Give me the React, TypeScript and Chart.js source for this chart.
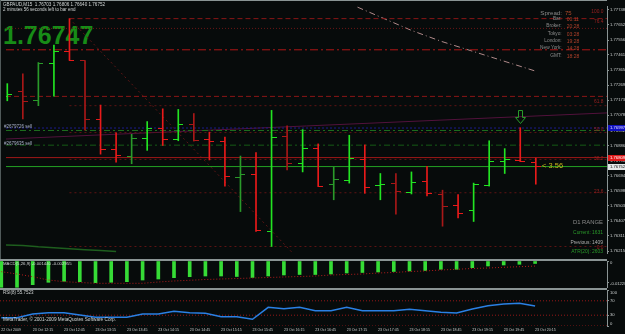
import React, { useEffect, useRef } from 'react';
import { Chart, registerables } from 'chart.js';

Chart.register(...registerables);

// ---------------- DATA ----------------
const timeTickBars = [0, 2, 4, 6, 8, 10, 12, 14, 16, 18, 20, 22, 24, 26, 28, 30, 32, 34];
const timeTickLabels = [
  '22 Oct 2009', '23 Oct 12:15', '23 Oct 12:45', '23 Oct 13:15', '23 Oct 13:45', '23 Oct 14:15',
  '23 Oct 14:45', '23 Oct 15:15', '23 Oct 15:45', '23 Oct 16:15', '23 Oct 16:45', '23 Oct 17:15',
  '23 Oct 17:45', '23 Oct 18:15', '23 Oct 18:45', '23 Oct 19:15', '23 Oct 19:45', '23 Oct 20:15',
];

const opens = [1.77200, 1.77230, 1.77174, 1.77409, 1.77481, 1.77423, 1.77054, 1.76861, 1.76815, 1.76931, 1.76991, 1.76922, 1.77022, 1.76926, 1.76910, 1.76683, 1.76703, 1.76338, 1.76946, 1.76773, 1.76864, 1.76636, 1.76663, 1.76799, 1.76630, 1.76647, 1.76586, 1.76659, 1.76572, 1.76505, 1.76475, 1.76633, 1.76787, 1.76793, 1.76780];
const highs = [1.77279, 1.77342, 1.77413, 1.77524, 1.77692, 1.77425, 1.77143, 1.76967, 1.76957, 1.77038, 1.77119, 1.77115, 1.77089, 1.76971, 1.76940, 1.76819, 1.76841, 1.77109, 1.77011, 1.76987, 1.76896, 1.76748, 1.76951, 1.76890, 1.76708, 1.76708, 1.76718, 1.76754, 1.76602, 1.76574, 1.76647, 1.76916, 1.76866, 1.76999, 1.76806];
const lows = [1.77170, 1.77054, 1.77139, 1.77200, 1.77427, 1.76983, 1.76831, 1.76780, 1.76770, 1.76855, 1.76886, 1.76916, 1.76914, 1.76794, 1.76628, 1.76466, 1.76340, 1.76244, 1.76730, 1.76718, 1.76625, 1.76541, 1.76647, 1.76582, 1.76541, 1.76450, 1.76578, 1.76566, 1.76373, 1.76426, 1.76403, 1.76628, 1.76708, 1.76783, 1.76640];
const closes = [1.77212, 1.77165, 1.77405, 1.77481, 1.77429, 1.77054, 1.76861, 1.76825, 1.76931, 1.76991, 1.76922, 1.77022, 1.76916, 1.76912, 1.76687, 1.76703, 1.76343, 1.76937, 1.76773, 1.76864, 1.76627, 1.76667, 1.76803, 1.76621, 1.76639, 1.76592, 1.76651, 1.76578, 1.76501, 1.76456, 1.76641, 1.76787, 1.76794, 1.76785, 1.76752];

const priceTicks = [1.77748, 1.77652, 1.77556, 1.77461, 1.77365, 1.77269, 1.77173, 1.77078, 1.76982, 1.76886, 1.76790, 1.76694, 1.76598, 1.76503, 1.76407, 1.76311, 1.76215];

// horizontal levels (pivots, orders, ask, bid)
const levelPrices = [1.77630, 1.77494, 1.77198, 1.76997, 1.76981, 1.76888, 1.76809, 1.76752];
// fibonacci retracement (bar 4 high to bar 17 low)
const fibHighBar = 4;
const fibLowBar = 17;
const fibRatios = [1, 0.618, 0.5, 0.382, 0.236, 0];
// right-axis price markers (order, ask, bid)
const markerPrices = [1.76997, 1.76809, 1.76752];
// trend line and other drawn objects
const trendBars = [-0.083, 38.58];
const trendPrices = [1.76927, 1.77093];
const diagBars = [4, 18.5];
const diagPrices = [1.77692, 1.76188];
const curveBars = [22.53, 26.03, 27.94, 34];
const curvePrices = [1.77765, 1.77616, 1.77547, 1.77358];
const maBars = [-0.083, 1, 2, 3, 4, 5, 6, 7];
const maPrices = [1.76253, 1.76251, 1.76242, 1.76236, 1.76230, 1.76224, 1.76218, 1.76212];
const arrowBars = [33];
const arrowPrices = [1.77070];

const macdHist = [-0.01539, -0.01539, -0.01386, -0.01246, -0.01188, -0.01211, -0.01269, -0.01246, -0.01211, -0.01112, -0.01053, -0.00977, -0.00918, -0.00878, -0.00878, -0.00907, -0.00965, -0.00878, -0.00819, -0.00790, -0.00790, -0.00761, -0.00702, -0.00673, -0.00644, -0.00614, -0.00585, -0.00556, -0.00486, -0.00486, -0.00392, -0.00293, -0.00234, -0.00193, -0.00144];
const macdSignal = [-0.00626, -0.00761, -0.00918, -0.01112, -0.01211, -0.01258, -0.01305, -0.01305, -0.01305, -0.01305, -0.01229, -0.01170, -0.01129, -0.01082, -0.01053, -0.01024, -0.00995, -0.00965, -0.00936, -0.00907, -0.00878, -0.00819, -0.00790, -0.00761, -0.00702, -0.00673, -0.00614, -0.00585, -0.00527, -0.00486, -0.00439, -0.00410, -0.00369, -0.00333, -0.00296];
const macdTicks = [0, -0.01229];
const macdTickLabels = ['0', '-0.012285'];

const rsiValues = [23.1, 23.1, 33.3, 36.9, 36.9, 30.6, 24.2, 24.2, 24.2, 33.3, 33.3, 40.8, 36.9, 35.3, 25.8, 25.8, 18.6, 51.9, 48.1, 51.9, 42.5, 42.5, 51.9, 42.5, 42.5, 42.5, 46.4, 42.5, 38.1, 36.1, 47.2, 56.4, 61.1, 63.1, 55.75];
const rsiTicks = [100, 70, 30, 0];
const rsiLevels = [70, 30, 0];

// ---------------- LAYOUT / STYLE ----------------
const X_MIN = -0.083;
const X_MAX = 38.58;
const P_MIN = 1.762028;
const P_MAX = 1.777723;
const MACD_MIN = -0.0158;
const AXIS_COLOR = '#8a9494';
const LABEL_COLOR = '#c8cccc';
const FONT = '"Liberation Sans", Arial, sans-serif';
const UP_BRIGHT = '#22e422';
const UP_DARK = '#2a9a2a';
const DN_BRIGHT = '#e81a1a';
const DN_DARK = '#a81818';
const barShade = [1, 0, 0, 1, 1, 0, 1, 1, 0, 1, 1, 1, 0, 1, 1, 0, 1, 1, 0, 1, 1, 0, 1, 1, 1, 0, 1, 1, 0, 1, 1, 1, 1, 1, 1];
const levelStyles = [
  { c: '#6a1616', d: [1, 2], w: 1 },
  { c: '#b01616', d: [8, 3, 2, 3], w: 1 },
  { c: '#8a1616', d: [5, 3], w: 1 },
  { c: '#1c1c8c', d: [2, 2], w: 1 },
  { c: '#1e6e1e', d: [6, 3, 2, 3], w: 1 },
  { c: '#165c16', d: [6, 3, 2, 3], w: 1 },
  { c: '#a01818', d: [], w: 1 },
  { c: '#24a024', d: [], w: 1 },
];
const fibStyles = [
  { c: '#8a1616', d: [5, 3] },
  { c: '#5e1414', d: [2, 3] },
  { c: '#5e1414', d: [2, 3] },
  { c: '#5e1414', d: [2, 3] },
  { c: '#5e1414', d: [2, 3] },
  { c: '#5e1414', d: [2, 3] },
];
const markerStyles = [
  { bg: '#1010c0', fg: '#e0e0ff' },
  { bg: '#e01818', fg: '#ffffff' },
  { bg: '#e4e8e8', fg: '#101010' },
];

const noAxisX = { type: 'linear' as const, min: X_MIN, max: X_MAX, display: false, offset: false };

function rightAxis(extra: any) {
  return {
    position: 'right' as const,
    afterFit: (s: any) => { s.width = 18; s.paddingTop = 0; s.paddingBottom = 0; },
    ticks: { color: LABEL_COLOR, font: { size: 4.2, family: FONT }, padding: 1, autoSkip: false },
    grid: { display: true, drawOnChartArea: false, drawTicks: true, tickLength: 2, color: AXIS_COLOR },
    border: { display: true, color: AXIS_COLOR, width: 1 },
    beginAtZero: false,
    ...extra,
  };
}

const basePlugins = { legend: { display: false }, tooltip: { enabled: false }, title: { display: false } };

const crisp = {
  id: 'crisp',
  beforeDatasetsDraw(chart: any) { chart.ctx.imageSmoothingEnabled = false; },
  afterDatasetsDraw(chart: any) { chart.ctx.imageSmoothingEnabled = true; },
};

const markerPlugin = {
  id: 'markers',
  afterDraw(chart: any) {
    const { ctx, chartArea } = chart;
    const y = chart.scales.y;
    markerPrices.forEach((p, i) => {
      const py = Math.round(y.getPixelForValue(p));
      ctx.save();
      ctx.fillStyle = markerStyles[i].bg;
      ctx.fillRect(chartArea.right + 1, py - 3, 18, 6);
      ctx.fillStyle = markerStyles[i].fg;
      ctx.font = `4.2px ${FONT}`;
      ctx.textBaseline = 'middle';
      ctx.fillText(p.toFixed(5), chartArea.right + 3, py);
      ctx.restore();
    });
  },
};

function tickImg(color: string, left: boolean) {
  const c = document.createElement('canvas');
  c.width = 10; c.height = 1;
  const g = c.getContext('2d')!;
  g.fillStyle = color;
  g.fillRect(left ? 0 : 5, 0, 5, 1);
  return c;
}

function arrowImg() {
  const c = document.createElement('canvas');
  c.width = 11; c.height = 14;
  const g = c.getContext('2d')!;
  g.strokeStyle = '#2a9a2a';
  g.lineWidth = 1;
  g.beginPath();
  g.moveTo(3.5, 0.5); g.lineTo(7.5, 0.5); g.lineTo(7.5, 7.5); g.lineTo(10.5, 7.5);
  g.lineTo(5.5, 13.5); g.lineTo(0.5, 7.5); g.lineTo(3.5, 7.5); g.closePath();
  g.stroke();
  return c;
}

function line(xs: number[], ys: number[], color: string, dash: number[], width = 1) {
  return {
    type: 'line' as const,
    data: xs.map((x, i) => ({ x, y: ys[i] })),
    borderColor: color,
    borderDash: dash,
    borderWidth: width,
    pointRadius: 0,
    fill: false,
    tension: 0,
  };
}

function Txt({ x, y, s, c, t, right = false, bold = false }: { x: number; y: number; s: number; c: string; t: string; right?: boolean; bold?: boolean }) {
  const style: React.CSSProperties = {
    position: 'absolute', top: y - s / 2, fontSize: s, lineHeight: `${s}px`, color: c,
    whiteSpace: 'pre', fontFamily: FONT, fontWeight: bold ? 700 : 400,
  };
  if (right) style.right = 625 - x; else style.left = x;
  return <div style={style}>{t}</div>;
}

export default function App() {
  const mainRef = useRef<HTMLCanvasElement>(null);
  const macdRef = useRef<HTMLCanvasElement>(null);
  const rsiRef = useRef<HTMLCanvasElement>(null);

  useEffect(() => {
    const isUp = (i: number) => closes[i] >= opens[i];
    const colorOf = (i: number) => isUp(i) ? (barShade[i] ? UP_BRIGHT : UP_DARK) : (barShade[i] ? DN_BRIGHT : DN_DARK);
    const imgs: Record<string, HTMLCanvasElement> = {};
    [UP_BRIGHT, UP_DARK, DN_BRIGHT, DN_DARK].forEach((c) => {
      imgs[c + 'L'] = tickImg(c, true);
      imgs[c + 'R'] = tickImg(c, false);
    });
    const idx = opens.map((_, i) => i);
    const fibHigh = highs[fibHighBar];
    const fibLow = lows[fibLowBar];

    const mainDatasets: any[] = [
      {
        type: 'bar',
        data: idx.map((i) => ({ x: i, y: [lows[i], highs[i]] })),
        backgroundColor: idx.map(colorOf),
        barThickness: 1,
        grouped: false,
      },
      {
        type: 'scatter',
        data: idx.map((i) => ({ x: i, y: opens[i] })),
        pointStyle: idx.map((i) => imgs[colorOf(i) + 'L']),
        pointRadius: 3,
      },
      {
        type: 'scatter',
        data: idx.map((i) => ({ x: i, y: closes[i] })),
        pointStyle: idx.map((i) => imgs[colorOf(i) + 'R']),
        pointRadius: 3,
      },
      {
        type: 'scatter',
        data: arrowBars.map((b, i) => ({ x: b, y: arrowPrices[i] })),
        pointStyle: arrowImg(),
        pointRadius: 5,
      },
      ...levelPrices.map((p, i) => line([X_MIN, X_MAX], [p, p], levelStyles[i].c, levelStyles[i].d, levelStyles[i].w)),
      ...fibRatios.map((r, i) => {
        const p = fibLow + r * (fibHigh - fibLow);
        return line([fibHighBar, X_MAX], [p, p], fibStyles[i].c, fibStyles[i].d);
      }),
      line(trendBars, trendPrices, '#52123c', []),
      line(diagBars, diagPrices, '#5e1616', [2, 3]),
      line(curveBars, curvePrices, '#b08a8a', [6, 3, 1, 3]),
      line(maBars, maPrices, '#1e5e1e', [], 1.5),
    ];

    const main = new Chart(mainRef.current!, {
      type: 'scatter',
      data: { datasets: mainDatasets },
      options: {
        animation: false, responsive: false, devicePixelRatio: 1, events: [],
        layout: { padding: { top: 1, left: 0, right: 0, bottom: 0 } },
        plugins: basePlugins as any,
        scales: {
          x: noAxisX,
          y: rightAxis({
            min: P_MIN, max: P_MAX,
            afterBuildTicks: (s: any) => { s.ticks = priceTicks.map((v) => ({ value: v })); },
            ticks: { color: LABEL_COLOR, font: { size: 4.2, family: FONT }, padding: 1, autoSkip: false, callback: (v: any) => Number(v).toFixed(5) },
          }),
        } as any,
      },
      plugins: [crisp, markerPlugin],
    } as any);

    const macd = new Chart(macdRef.current!, {
      type: 'scatter',
      data: {
        datasets: [
          line(idx, macdSignal, '#b41c1c', [1, 2]),
          {
            type: 'bar',
            data: idx.map((i) => ({ x: i, y: macdHist[i] })),
            backgroundColor: '#36dc36',
            barThickness: 3,
            grouped: false,
          },
        ] as any,
      },
      options: {
        animation: false, responsive: false, devicePixelRatio: 1, events: [],
        layout: { padding: 0 },
        plugins: basePlugins as any,
        scales: {
          x: noAxisX,
          y: rightAxis({
            min: MACD_MIN, max: 0,
            afterBuildTicks: (s: any) => { s.ticks = macdTicks.map((v) => ({ value: v })); },
            ticks: { color: LABEL_COLOR, font: { size: 4.2, family: FONT }, padding: 1, autoSkip: false, labelOffset: 2.3, callback: (_v: any, i: number) => macdTickLabels[i] },
          }),
        } as any,
      },
    } as any);

    const rsi = new Chart(rsiRef.current!, {
      type: 'scatter',
      data: {
        datasets: [
          line(idx, rsiValues, '#2a80e4', [], 1.5),
          ...rsiLevels.map((v) => line([X_MIN, X_MAX], [v, v], '#961818', [1, 2])),
        ] as any,
      },
      options: {
        animation: false, responsive: false, devicePixelRatio: 1, events: [],
        layout: { padding: 0 },
        plugins: basePlugins as any,
        scales: {
          x: {
            type: 'linear', min: X_MIN, max: X_MAX, position: 'bottom', offset: false,
            afterBuildTicks: (s: any) => { s.ticks = timeTickBars.map((v) => ({ value: v })); },
            afterFit: (s: any) => { s.height = 8; s.paddingLeft = 0; s.paddingRight = 0; },
            ticks: {
              color: LABEL_COLOR, font: { size: 3.6, family: FONT }, padding: 2, autoSkip: false,
              maxRotation: 0, minRotation: 0, align: 'start',
              callback: (_v: any, i: number) => timeTickLabels[i],
            },
            grid: { display: false, drawTicks: false },
            border: { display: false },
          },
          y: rightAxis({
            min: 0, max: 100,
            afterBuildTicks: (s: any) => { s.ticks = rsiTicks.map((v) => ({ value: v })); },
            ticks: {
              color: LABEL_COLOR, font: { size: 4.2, family: FONT }, padding: 1, autoSkip: false,
              callback: (v: any) => (v === 100 ? ['', '100'] : v === 0 ? ['0', ''] : String(v)),
            },
          }),
        } as any,
      },
    } as any);

    return () => { main.destroy(); macd.destroy(); rsi.destroy(); };
  }, []);

  const info = [
    ['Bar:', '00:11', 19.3], ['Broker:', '20:28', 26.7], ['Tokyo:', '03:28', 34],
    ['London:', '19:28', 41.3], ['New York:', '14:28', 48.7], ['GMT:', '18:28', 56],
  ] as const;
  const fibText = [['100.0', 12.3], ['76.4', 22.7], ['61.8', 102.7], ['50.0', 130], ['38.2', 159.3], ['23.6', 192.7], ['0.0', 248.3]] as const;

  return (
    <div style={{ position: 'fixed', left: 0, top: 0, width: 625, height: 334, background: '#070b0b', overflow: 'hidden', fontFamily: FONT }}>
      <Txt x={3} y={35.5} s={25} c="#178c17" t="1.76747" bold />
      <canvas ref={mainRef} width={625} height={259} style={{ position: 'absolute', left: 0, top: 0 }} />
      <canvas ref={macdRef} width={625} height={27} style={{ position: 'absolute', left: 0, top: 261 }} />
      <canvas ref={rsiRef} width={625} height={44} style={{ position: 'absolute', left: 0, top: 290 }} />
      <div style={{ position: 'absolute', left: 0, top: 0, width: 607, height: 1, background: AXIS_COLOR }} />
      <div style={{ position: 'absolute', left: 0, top: 0, width: 1, height: 259, background: '#505a5a' }} />
      <div style={{ position: 'absolute', left: 0, top: 259, width: 607, height: 2, background: AXIS_COLOR }} />
      <div style={{ position: 'absolute', left: 0, top: 288, width: 607, height: 2, background: AXIS_COLOR }} />

      <Txt x={3} y={5} s={4.6} c="#d0d4d4" t="GBPAUD,M15  1.76703 1.76806 1.76640 1.76752" />
      <Txt x={3} y={10.2} s={4.5} c="#d0d4d4" t="2 minutes 56 seconds left to bar end" />

      <Txt x={562} y={12.7} s={6.2} c="#8a8a8a" t="Spread:" right />
      <Txt x={565} y={12.7} s={6} c="#b04a2a" t="75" />
      {info.map(([l, v, y]) => (
        <React.Fragment key={l}>
          <Txt x={561.7} y={y} s={4.8} c="#8c8c8c" t={l} right />
          <Txt x={566.7} y={y} s={5} c="#b0402a" t={v} />
        </React.Fragment>
      ))}
      {fibText.map(([t, y]) => (
        <Txt key={t} x={603.3} y={y} s={4.8} c="#9a2020" t={t} right />
      ))}

      <Txt x={4} y={127.5} s={4.5} c="#a8b0c8" t="#2679726 sell" />
      <Txt x={4} y={143.8} s={4.5} c="#a8b0c8" t="#2679635 sell" />
      <Txt x={542} y={165.5} s={7.5} c="#c8b41a" t="< 3.56" />

      <Txt x={603} y={222.7} s={5.9} c="#8a8a8a" t="D1 RANGE" right />
      <Txt x={603} y={233.7} s={4.9} c="#2a9a2a" t="Current: 1631" right />
      <Txt x={603} y={243.3} s={4.9} c="#b0b0b0" t="Previous: 1409" right />
      <Txt x={603} y={252.3} s={4.9} c="#2a9a2a" t="ATR(20): 2603" right />

      <Txt x={3} y={264} s={4.3} c="#d0d4d4" t="MACD(5,26,9) -0.001440 -0.002955" />
      <Txt x={3} y={293.3} s={4.5} c="#d0d4d4" t="RSI(8) 55.7523" />
      <Txt x={3} y={320.7} s={4.7} c="#d0d4d4" t="MetaTrader, © 2001-2009 MetaQuotes Software Corp." />
    </div>
  );
}
